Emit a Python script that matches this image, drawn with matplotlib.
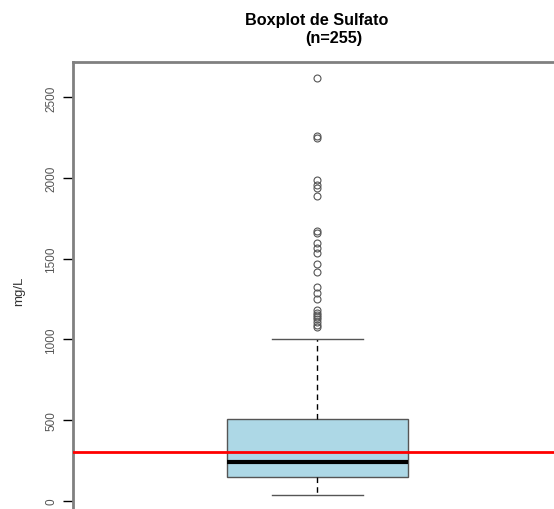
import matplotlib
matplotlib.use("Agg")
import matplotlib.pyplot as plt

# Data
title_line1 = "Boxplot de Sulfato"
title_line2 = "(n=255)"
ylabel = "mg/L"
yticks = [0, 500, 1000, 1500, 2000, 2500]

q1 = 145
median = 238
q3 = 508
whisker_low = 37
whisker_high = 1002
outliers = [2620, 2260, 2250, 1990, 1960, 1940, 1890, 1675, 1660, 1600, 1570,
            1535, 1465, 1420, 1325, 1285, 1250, 1185, 1165, 1150, 1140, 1125,
            1110, 1090, 1080]
reference_limit = 305

plt.rcParams['font.family'] = ['Liberation Sans', 'DejaVu Sans']

W, H = 554, 510
fig = plt.figure(figsize=(W / 100, H / 100), dpi=100)
ax = fig.add_axes([73.3 / W, 1 - 512.4 / H, 488.4 / W, (512.4 - 63) / H])

stats = [dict(med=median, q1=q1, q3=q3, whislo=whisker_low, whishi=whisker_high,
              fliers=outliers, label="")]
ax.bxp(stats, positions=[1], widths=0.369, capwidths=0.185, patch_artist=True,
       boxprops=dict(facecolor="#ADD8E6", edgecolor="#555555", linewidth=1.0),
       medianprops=dict(color="black", linewidth=3, solid_capstyle="butt"),
       whiskerprops=dict(color="black", linewidth=1, linestyle=(0, (4, 3))),
       capprops=dict(color="#555555", linewidth=1.0),
       flierprops=dict(marker="o", markersize=5, markerfacecolor="none",
                       markeredgecolor="#555555", markeredgewidth=0.8))

ax.axhline(reference_limit, color="red", linewidth=2, zorder=5)

ax.set_xlim(0.5, 1.5)
ax.set_ylim(-66, 2720)
ax.set_xticks([])
ax.set_yticks(yticks)
ax.set_yticklabels([str(t) for t in yticks], rotation=90, va="center",
                   fontsize=8.5, color="#555555")
ax.tick_params(axis="y", direction="out", length=7, width=1, color="black", pad=4.5)
for s in ax.spines.values():
    s.set_color("#808080")
    s.set_linewidth(2)
ax.set_ylabel(ylabel, fontsize=9.5, color="#333333", va="center")
ax.yaxis.set_label_coords(-0.1118, 0.493)

fig.text(317 / W, 1 - 20 / H, title_line1, ha="center", va="center",
         fontsize=11.7, fontweight="bold")
fig.text(334 / W, 1 - 38 / H, title_line2, ha="center", va="center",
         fontsize=11.7, fontweight="bold")

fig.savefig("out.png", dpi=100)
